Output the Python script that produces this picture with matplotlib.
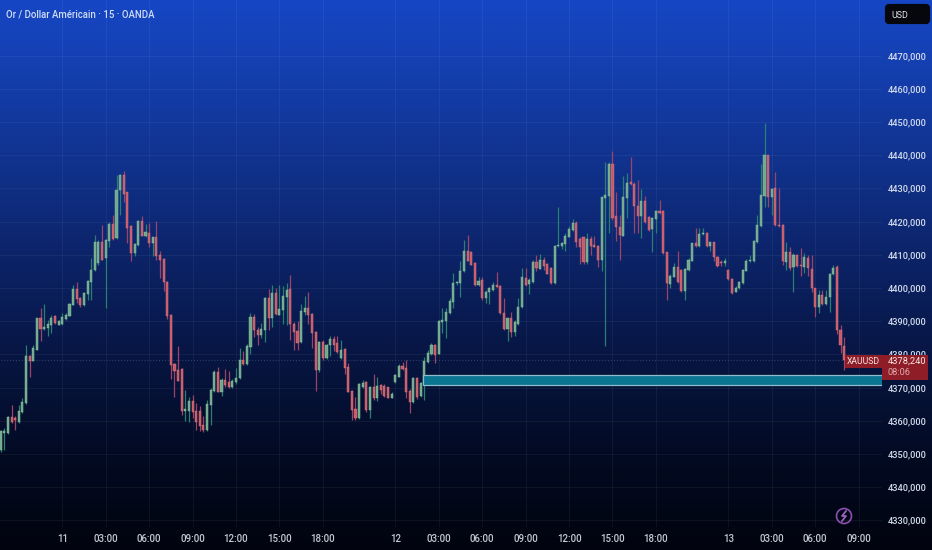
import numpy as np
import matplotlib
matplotlib.use("Agg")
import matplotlib.pyplot as plt
from matplotlib.patches import Rectangle, Circle, FancyBboxPatch

plt.rcParams['font.family'] = ['Roboto', 'DejaVu Sans']

# --- candles, 15 min ---
opens = [
    4351.2,4356.3,4356.3,4361.0,4360.8,4359.6,4362.8,4365.3,4379.6,4378.1,
    4381.4,4390.9,4387.6,4387.9,4388.9,4391.7,4389.0,4389.2,4390.7,4391.7,
    4395.0,4399.7,4397.1,4394.9,4398.2,4401.9,4405.3,4407.5,4414.0,4409.0,
    4414.3,4419.3,4415.0,4429.4,4434.1,4428.8,4418.7,4410.5,4413.0,4420.2,
    4415.7,4416.7,4413.5,4415.3,4410.0,4408.8,4401.9,4391.9,4377.0,4375.3,
    4375.6,4363.1,4363.1,4366.0,4363.1,4363.1,4358.7,4357.1,4364.8,4369.1,
    4374.8,4368.8,4372.3,4371.6,4370.1,4371.6,4372.8,4378.3,4377.1,4382.1,
    4391.4,4387.4,4385.7,4387.4,4396.9,4390.9,4398.4,4392.0,4393.4,4397.4,
    4399.6,4389.2,4386.9,4383.6,4392.9,4393.9,4392.2,4386.6,4375.3,4383.6,
    4378.8,4382.7,4384.6,4383.4,4378.8,4381.6,4376.1,4369.0,4363.5,4360.8,
    4370.3,4371.8,4363.3,4370.3,4367.0,4370.8,4370.5,4370.1,4367.0,4371.6,
    4373.3,4376.5,4376.0,4369.0,4365.8,4372.8,4367.5,4371.3,4377.8,4380.1,
    4382.7,4380.2,4389.9,4390.1,4392.6,4395.9,4401.4,4401.6,4405.0,4411.2,
    4410.8,4407.5,4400.9,4402.4,4396.9,4398.7,4399.4,4400.9,4400.7,4392.4,
    4387.6,4391.1,4386.7,4389.2,4394.2,4403.1,4401.1,4401.7,4407.8,4405.8,
    4408.5,4407.3,4406.0,4401.4,4412.6,4412.7,4413.3,4415.5,4417.5,4419.5,
    4414.7,4415.3,4407.7,4414.8,4413.0,4412.8,4408.3,4427.2,4427.8,4437.4,
    4421.8,4418.5,4415.8,4427.0,4431.8,4431.3,4424.7,4421.8,4426.3,4421.5,
    4417.8,4420.7,4423.3,4423.3,4410.7,4401.2,4403.4,4406.4,4405.4,4399.1,
    4405.4,4408.2,4413.5,4412.6,4416.2,4416.7,4412.6,4413.8,4409.4,4407.9,
    4407.6,4405.4,4402.8,4398.9,4399.9,4401.4,4405.2,4408.0,4408.0,4414.0,
    4418.7,4427.7,4440.0,4427.3,4430.0,4419.0,4419.0,4407.9,4410.7,4406.2,
    4409.9,4407.0,4406.4,4409.1,4405.7,4399.9,4394.2,4397.9,4395.2,4397.4,
    4404.2,4406.2,4387.3,4382.6,
]
highs = [
    4357.3,4357.8,4361.3,4364.8,4361.3,4364.8,4366.8,4382.9,4379.9,4382.9,
    4391.1,4393.9,4395.2,4390.4,4391.9,4391.9,4390.4,4392.6,4392.4,4395.4,
    4400.9,4401.9,4397.4,4398.9,4402.4,4409.0,4416.0,4414.5,4419.0,4414.7,
    4420.0,4422.0,4434.1,4434.4,4435.1,4429.0,4419.0,4413.5,4420.5,4421.7,
    4419.3,4419.5,4415.5,4420.3,4411.0,4409.0,4402.1,4392.1,4377.3,4382.4,
    4375.8,4369.3,4367.3,4367.8,4365.5,4364.5,4361.3,4366.3,4369.8,4375.3,
    4376.3,4372.8,4375.5,4375.1,4372.6,4375.8,4381.8,4380.9,4383.0,4392.6,
    4392.2,4388.2,4389.6,4397.4,4399.6,4400.9,4399.9,4400.9,4400.6,4401.6,
    4404.0,4389.9,4390.2,4395.2,4397.7,4398.7,4392.4,4386.9,4383.9,4384.4,
    4383.2,4385.4,4385.4,4385.4,4384.4,4381.9,4377.3,4369.3,4367.3,4371.3,
    4372.3,4372.1,4370.5,4374.0,4373.1,4371.1,4371.1,4370.3,4368.6,4374.0,
    4377.1,4377.8,4378.3,4369.5,4373.3,4373.1,4371.8,4379.3,4381.4,4383.4,
    4383.1,4390.3,4393.9,4393.9,4396.9,4404.4,4402.0,4408.0,4414.5,4416.0,
    4411.0,4407.7,4403.4,4403.2,4399.4,4400.4,4401.9,4404.9,4400.9,4396.9,
    4391.1,4392.7,4390.4,4396.9,4405.9,4405.9,4402.9,4408.3,4410.0,4410.2,
    4409.3,4407.5,4406.3,4412.9,4424.3,4414.0,4416.7,4418.7,4420.7,4420.3,
    4415.5,4415.5,4416.5,4415.7,4415.7,4413.0,4427.5,4438.0,4438.0,4441.3,
    4429.0,4422.0,4433.6,4434.6,4439.4,4432.0,4432.6,4429.7,4427.7,4421.7,
    4421.3,4423.6,4426.5,4423.5,4410.9,4404.3,4407.4,4411.2,4405.6,4406.0,
    4408.9,4413.7,4418.0,4418.0,4418.0,4416.9,4414.0,4414.0,4409.6,4408.3,
    4408.9,4405.6,4403.0,4400.6,4402.0,4405.6,4408.7,4409.9,4414.5,4422.0,
    4437.5,4449.6,4440.2,4430.0,4435.0,4430.0,4419.2,4414.0,4412.4,4410.4,
    4410.2,4412.0,4410.4,4409.9,4410.0,4400.1,4399.4,4399.4,4399.4,4404.4,
    4406.9,4406.9,4388.9,4385.3,
]
lows = [
    4350.7,4351.2,4356.0,4359.3,4357.3,4359.3,4362.3,4365.1,4373.1,4378.0,
    4381.2,4384.1,4387.4,4385.6,4386.4,4389.2,4388.8,4389.0,4390.4,4391.5,
    4394.8,4395.6,4394.4,4394.7,4396.4,4396.4,4405.0,4407.0,4408.3,4393.9,
    4412.5,4414.6,4414.8,4422.0,4426.0,4413.7,4408.0,4409.7,4412.8,4415.6,
    4415.3,4412.2,4409.7,4408.5,4403.0,4399.2,4390.7,4372.5,4367.3,4371.9,
    4361.8,4359.8,4359.5,4360.8,4357.1,4356.8,4356.5,4356.8,4358.8,4368.8,
    4368.6,4367.6,4370.3,4369.9,4369.9,4371.0,4372.6,4376.8,4376.9,4380.2,
    4385.2,4382.9,4384.9,4383.6,4387.4,4388.4,4391.9,4391.8,4389.2,4388.9,
    4384.4,4381.2,4381.4,4383.4,4391.9,4389.1,4381.9,4369.0,4374.8,4378.3,
    4378.5,4379.4,4380.9,4380.4,4378.5,4374.0,4368.6,4360.1,4360.1,4360.6,
    4369.8,4362.8,4360.8,4366.3,4366.0,4368.1,4367.3,4366.8,4366.8,4371.5,
    4373.1,4375.3,4366.8,4362.5,4365.3,4366.5,4367.3,4366.3,4377.5,4379.9,
    4377.3,4380.0,4386.4,4385.0,4392.3,4393.9,4401.0,4397.4,4404.8,4408.0,
    4406.8,4400.7,4400.7,4396.4,4395.4,4395.2,4399.2,4400.2,4392.2,4387.4,
    4383.9,4385.1,4385.4,4388.9,4394.0,4400.6,4398.2,4401.4,4405.0,4405.6,
    4405.5,4404.1,4401.2,4401.2,4412.4,4411.7,4411.0,4415.3,4417.3,4412.5,
    4407.3,4407.3,4407.3,4410.0,4412.3,4406.3,4405.0,4382.4,4416.5,4420.5,
    4414.3,4408.5,4415.6,4421.0,4431.0,4416.5,4416.5,4415.0,4419.6,4417.3,
    4410.9,4416.5,4422.3,4410.2,4396.4,4400.1,4403.2,4401.4,4398.9,4396.4,
    4405.0,4408.0,4412.4,4412.4,4416.0,4412.4,4411.2,4408.0,4406.4,4406.7,
    4406.7,4402.4,4398.2,4398.7,4399.7,4401.2,4405.0,4407.9,4407.8,4413.7,
    4418.5,4424.3,4424.3,4422.0,4418.7,4418.5,4406.9,4405.4,4405.4,4398.9,
    4406.4,4403.7,4404.5,4403.6,4398.7,4391.2,4392.6,4394.9,4394.9,4392.9,
    4404.0,4386.1,4380.3,4375.3,
]
closes = [
    4356.8,4357.0,4361.0,4359.6,4360.1,4363.0,4365.6,4379.6,4378.1,4381.9,
    4390.9,4387.7,4388.4,4389.2,4390.9,4389.4,4390.2,4391.2,4391.9,4395.2,
    4399.7,4396.7,4394.8,4398.6,4402.2,4405.5,4413.8,4414.0,4408.5,4414.5,
    4419.3,4414.8,4429.6,4434.1,4428.2,4418.2,4410.5,4413.3,4420.3,4415.8,
    4416.8,4413.7,4415.3,4409.7,4408.5,4401.7,4391.7,4376.8,4375.1,4372.1,
    4363.1,4363.5,4366.0,4362.6,4359.5,4358.5,4357.1,4365.0,4369.3,4374.8,
    4368.8,4372.3,4370.8,4370.1,4372.1,4372.8,4378.3,4377.1,4382.4,4391.4,
    4387.2,4385.9,4387.7,4396.9,4390.9,4398.4,4392.2,4393.6,4397.6,4399.4,
    4389.2,4386.6,4383.4,4393.1,4393.9,4391.9,4386.4,4375.3,4383.6,4378.8,
    4382.7,4384.7,4382.9,4380.6,4381.2,4375.8,4368.8,4363.3,4360.8,4371.0,
    4371.3,4363.3,4370.3,4367.0,4370.5,4369.3,4367.5,4367.0,4368.1,4373.8,
    4376.6,4375.5,4368.8,4365.8,4372.8,4367.3,4371.5,4378.1,4380.3,4382.9,
    4379.9,4390.1,4390.3,4392.9,4396.1,4401.6,4401.7,4405.2,4411.0,4408.2,
    4407.0,4400.9,4402.1,4396.9,4398.9,4399.9,4400.9,4400.4,4392.4,4387.6,
    4390.9,4386.6,4389.7,4394.2,4403.2,4400.9,4402.4,4407.8,4405.9,4408.5,
    4406.7,4404.3,4401.4,4412.7,4412.9,4413.5,4415.7,4417.7,4419.7,4414.0,
    4412.5,4407.7,4414.8,4412.7,4412.5,4408.5,4427.3,4428.0,4437.4,4421.0,
    4418.3,4416.0,4427.3,4431.6,4431.3,4424.7,4421.7,4426.3,4419.8,4417.5,
    4421.0,4423.3,4422.5,4410.4,4401.4,4403.6,4406.4,4401.9,4399.1,4405.7,
    4408.4,4413.5,4412.6,4416.3,4416.5,4412.6,4413.8,4409.2,4406.6,4407.4,
    4408.0,4402.6,4398.6,4400.1,4401.7,4405.4,4408.2,4408.4,4414.3,4419.0,
    4428.0,4440.0,4427.3,4429.7,4419.0,4418.7,4408.0,4410.7,4405.9,4409.9,
    4406.6,4406.6,4409.2,4405.9,4399.9,4394.2,4397.9,4395.1,4397.4,4404.2,
    4405.9,4387.3,4382.8,4378.2,
]
assert len(opens) == len(highs) == len(lows) == len(closes) == 234

price_ticks = [4330, 4340, 4350, 4360, 4370, 4380, 4390, 4400, 4410, 4420, 4430, 4440, 4450, 4460, 4470]
time_pos = [17, 29, 41, 53, 65, 77, 89, 109, 121, 133, 145, 157, 169, 181, 201, 213, 225, 237]
time_labels = ['11', '03:00', '06:00', '09:00', '12:00', '15:00', '18:00',
               '12', '03:00', '06:00', '09:00', '12:00', '15:00', '18:00',
               '13', '03:00', '06:00', '09:00']
zone_start = 116.7
zone_top = 4373.8
zone_bottom = 4370.8
last_price = 4378.24

W, H = 932, 550
PANE_R, PANE_B = 882, 527

fig = plt.figure(figsize=(W / 100, H / 100), dpi=100)

# --- background gradient over the whole figure ---
bg = fig.add_axes([0, 0, 1, 1], zorder=0)
stops_y = [0, 60, 150, 250, 350, 450, 550]
stops_c = np.array([[22, 70, 196], [20, 64, 178], [17, 52, 146], [12, 36, 106],
                    [7, 22, 68], [3, 11, 36], [1, 4, 14]], dtype=float)
yy = np.arange(H)
grad = np.stack([np.interp(yy, stops_y, stops_c[:, k]) for k in range(3)], axis=1)[:, None, :] / 255
bg.imshow(grad, aspect='auto', extent=[0, W, H, 0])
bg.axis('off')

# --- main pane ---
ax = fig.add_axes([0, 1 - PANE_B / H, PANE_R / W, PANE_B / H], zorder=1)
ax.patch.set_alpha(0)
x_per_px = 1 / 3.62
ax.set_xlim(-0.7 * x_per_px, (PANE_R - 0.7) * x_per_px)
ax.set_ylim(4400 + (288 - PANE_B) / 3.32, 4400 + 288 / 3.32)
for s in ax.spines.values():
    s.set_visible(False)

ax.yaxis.tick_right()
ax.set_yticks(price_ticks)
ax.set_yticklabels([f'{p},000' for p in price_ticks])
ax.set_xticks(time_pos)
ax.set_xticklabels(time_labels)
ax.tick_params(axis='y', length=0, pad=4.3, labelsize=6.7, labelcolor='#d4dcec')
ax.tick_params(axis='x', length=0, pad=5, labelsize=6.9, labelcolor='#c4c9d4')
for lab in ax.get_xticklabels() + ax.get_yticklabels():
    lab.set_fontweight('medium')
ax.grid(True, color='#ffffff', alpha=0.05, linewidth=0.8)
ax.set_axisbelow(True)

idx = np.arange(len(opens))
o, h, l, c = map(np.array, (opens, highs, lows, closes))
up = c >= o
ax.vlines(idx[up], l[up], h[up], color='#2a7f70', linewidth=0.9, zorder=2)
ax.vlines(idx[~up], l[~up], h[~up], color='#9c4468', linewidth=0.9, zorder=2)
ax.bar(idx[up], (c - o)[up], bottom=o[up], width=0.58, color='#6fa98a',
       edgecolor='#93c4a6', linewidth=0.3, zorder=3)
ax.bar(idx[~up], (o - c)[~up], bottom=c[~up], width=0.58, color='#c95a68',
       edgecolor='#d87a80', linewidth=0.3, zorder=3)

# zone rectangle
ax.add_patch(Rectangle((zone_start, zone_bottom), 300, zone_top - zone_bottom,
                       facecolor='#0a7590', edgecolor='#8fbccb', linewidth=0.9, zorder=4))
# last price dotted line
ax.plot([0, len(opens) - 1], [last_price, last_price], color='#8fa0c0', linewidth=0.7,
        linestyle=(0, (1, 2)), alpha=0.35, zorder=1)

# --- overlay in pixel coordinates ---
ov = fig.add_axes([0, 0, 1, 1], zorder=2)
ov.set_xlim(0, W)
ov.set_ylim(H, 0)
ov.axis('off')
ov.patch.set_alpha(0)

ov.text(6, 14, 'Or / Dollar Américain · 15 · OANDA', color='#cfdcf6', fontsize=6.9,
        fontweight='medium', va='center', ha='left')

ov.add_patch(FancyBboxPatch((887, 6), 41, 16, boxstyle='round,pad=0,rounding_size=2',
                            mutation_aspect=1, facecolor='#05070d', edgecolor='#05070d', linewidth=3))
ov.text(891, 15, 'USD', color='#e6e8ee', fontsize=6.4, va='center', ha='left')

ov.add_patch(Rectangle((845, 355), 37, 13, facecolor='#8f1d27', edgecolor='none'))
ov.text(863.5, 361.5, 'XAUUSD', color='#f3e6e6', fontsize=6.2, va='center', ha='center')
ov.add_patch(Rectangle((882, 355), 46, 25, facecolor='#8f1d27', edgecolor='none'))
ov.text(888, 361.5, '4378,240', color='#f5e8e8', fontsize=6.7, va='center', ha='left')
ov.text(888, 372.5, '08:06', color='#dca8ac', fontsize=6.7, va='center', ha='left')

ov.add_patch(Circle((844, 516), 7.5, facecolor='none', edgecolor='#8a4fb0', linewidth=1.2))
ov.plot([846, 842, 846, 842], [511, 516, 516, 521], color='#a565c8', linewidth=1.2)

fig.savefig('out.png', dpi=100)
